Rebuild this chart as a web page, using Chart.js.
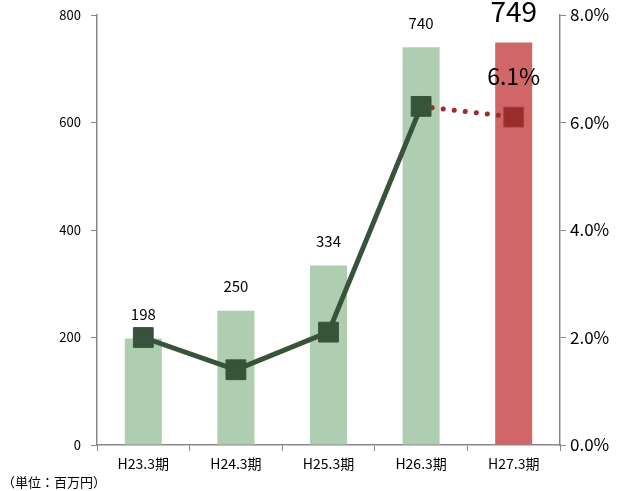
<!DOCTYPE html>
<html>
<head>
<meta charset="utf-8">
<script src="https://cdn.jsdelivr.net/npm/chart.js@4"></script>
<style>
  html, body { margin: 0; padding: 0; background: #fff; }
  #wrap { width: 617px; height: 491px; position: relative; }
</style>
</head>
<body>
<div id="wrap"><canvas id="chart" width="617" height="491"></canvas></div>
<script>
const kikan = ["H23.3期", "H24.3期", "H25.3期", "H26.3期", "H27.3期"];
const uriage = [198, 250, 334, 740, 749];
const ritsu = [2.0, 1.4, 2.1, 6.3, 6.1];
const hidariTicks = [0, 200, 400, 600, 800];
const migiTicks = [0, 2, 4, 6, 8];

const FONT = '"Noto Sans CJK JP", "DejaVu Sans", sans-serif';
const barColors = ['#afcdb0', '#afcdb0', '#afcdb0', '#afcdb0', '#d06666'];

// ラベル描画
const labelPlugin = {
    id: 'labels',
    afterDatasetsDraw(chart) {
        const ctx = chart.ctx;
        const bars = chart.getDatasetMeta(0).data;
        const pts = chart.getDatasetMeta(1).data;
        ctx.save();
        ctx.fillStyle = '#000';
        ctx.textAlign = 'center';
        ctx.textBaseline = 'middle';
        bars.forEach((b, i) => {
            if (i === 4) {
                ctx.font = '28px ' + FONT;
                ctx.fillText(uriage[i], b.x, b.y - 31);
            } else {
                ctx.font = '15px ' + FONT;
                ctx.fillText(uriage[i], b.x, b.y - 24);
            }
        });
        const p = pts[4];
        ctx.font = '23px ' + FONT;
        ctx.fillText(ritsu[4].toFixed(1) + '%', p.x, p.y - 41);
        ctx.font = '13px ' + FONT;
        ctx.textAlign = 'left';
        ctx.fillText('（単位：百万円）', 2, 482);
        ctx.restore();
    }
};

const noPadV = s => { s.paddingTop = 0; s.paddingBottom = 0; };

new Chart(document.getElementById('chart'), {
    data: {
        labels: kikan,
        datasets: [{
            type: 'bar',
            data: uriage,
            backgroundColor: barColors,
            barPercentage: 0.4,
            categoryPercentage: 1,
            yAxisID: 'y',
            order: 2
        }, {
            type: 'line',
            data: ritsu,
            yAxisID: 'y2',
            borderColor: '#37533a',
            borderWidth: 5,
            pointStyle: 'rect',
            pointRadius: 14,
            pointBackgroundColor: ['#37533a', '#37533a', '#37533a', '#37533a', '#9b2c2c'],
            pointBorderColor: ['#37533a', '#37533a', '#37533a', '#37533a', '#b03a3a'],
            pointBorderWidth: 1,
            segment: {
                borderColor: c => c.p1DataIndex === 4 ? '#9e2d2d' : '#37533a',
                borderDash: c => c.p1DataIndex === 4 ? [0.1, 11] : undefined,
                borderCapStyle: c => c.p1DataIndex === 4 ? 'round' : 'butt'
            },
            tension: 0,
            order: 1
        }]
    },
    options: {
        responsive: false,
        animation: false,
        layout: { padding: { top: 14, left: 0, right: 0, bottom: 0 } },
        plugins: { legend: { display: false }, tooltip: { enabled: false } },
        scales: {
            x: {
                grid: { offset: true, drawOnChartArea: false, drawTicks: true, tickLength: 6, color: '#888' },
                border: { color: '#888', width: 1.5 },
                ticks: { color: '#000', font: { family: FONT, size: 14 }, padding: 4 },
                afterFit: s => { s.height = 46; s.paddingLeft = 0; s.paddingRight = 0; }
            },
            y: {
                position: 'left',
                min: 0, max: 800,
                afterBuildTicks: s => { s.ticks = hidariTicks.map(v => ({ value: v })); },
                grid: { drawOnChartArea: false, tickLength: 6, color: '#888' },
                border: { color: '#888', width: 1.5 },
                ticks: { color: '#000', font: { family: FONT, size: 13 }, padding: 10 },
                afterFit: s => { s.width = 97; noPadV(s); }
            },
            y2: {
                position: 'right',
                min: 0, max: 8,
                afterBuildTicks: s => { s.ticks = migiTicks.map(v => ({ value: v })); },
                grid: { drawOnChartArea: false, tickLength: 6, color: '#888' },
                border: { color: '#888', width: 1.5 },
                ticks: { color: '#000', font: { family: FONT, size: 17 }, padding: 4,
                    callback: v => v.toFixed(1) + '%' },
                afterFit: s => { s.width = 57; noPadV(s); }
            }
        }
    },
    plugins: [labelPlugin]
});
</script>
</body>
</html>
